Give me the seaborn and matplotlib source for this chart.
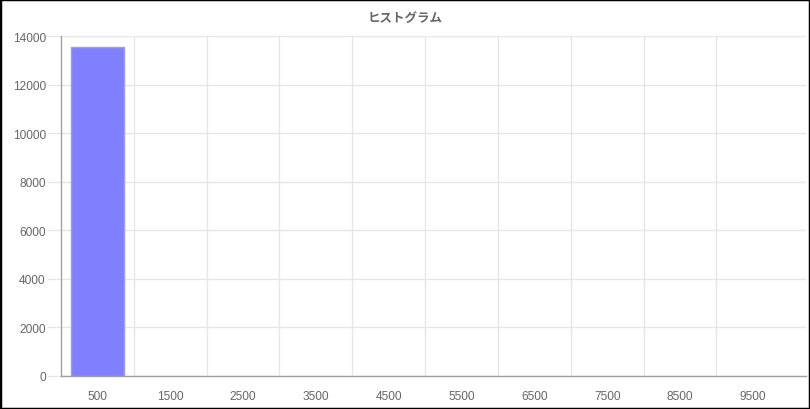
import matplotlib
matplotlib.use("Agg")
import matplotlib.pyplot as plt
from matplotlib.patches import Rectangle
import seaborn as sns
import pandas as pd

bins = ["500", "1500", "2500", "3500", "4500", "5500", "6500", "7500", "8500", "9500"]
counts = [13550, 0, 0, 0, 0, 0, 0, 0, 0, 0]
title = "ヒストグラム"

sns.set_theme(style="white")
plt.rcParams["font.family"] = ["Liberation Sans", "Noto Sans CJK JP", "DejaVu Sans"]

df = pd.DataFrame({"bin": bins, "count": counts})

fig = plt.figure(figsize=(8.1, 4.1), dpi=100)
W, H = 810, 410
ax = fig.add_axes([61 / W, (H - 377) / H, (806 - 61) / W, (377 - 37) / H])

sns.barplot(data=df, x="bin", y="count", ax=ax, color="#8080ff", saturation=1,
            width=0.72, edgecolor="#9a9aff", linewidth=1, order=bins)
for p in ax.patches:
    if p.get_height() == 0:
        p.set_linewidth(0)
        p.set_visible(False)

ax.set_ylim(0, 14000)
ax.set_xlim(-0.5, len(bins) - 0.5 + 0.23)
ax.set_yticks(range(0, 14001, 2000))
ax.set_xlabel("")
ax.set_ylabel("")

ax.set_xticks([i + 0.5 for i in range(len(bins) - 1)], minor=True)
ax.tick_params(axis="x", which="major", length=0, pad=10, labelsize=8.6, labelcolor="#666666")
ax.tick_params(axis="x", which="minor", length=9, width=1, color="#e6e6e6", direction="out")
ax.tick_params(axis="y", which="major", length=10, width=1, color="#e6e6e6", pad=1,
               labelsize=8.6, labelcolor="#666666", left=True)
ax.grid(True, axis="y", which="major", color="#e6e6e6", linewidth=1)
ax.grid(True, axis="x", which="minor", color="#e6e6e6", linewidth=1)
ax.set_axisbelow(True)

for s in ["top", "right"]:
    ax.spines[s].set_visible(False)
for s in ["left", "bottom"]:
    ax.spines[s].set_color("#a0a0a0")
    ax.spines[s].set_linewidth(1)

fig.text(0.5, 1 - 18 / H, title, ha="center", va="center", fontsize=9, fontweight="bold",
         color="#666666", family=["Noto Sans CJK JP", "DejaVu Sans"])

fig.patches.append(Rectangle((0, 0), 1, 1, transform=fig.transFigure, fill=False,
                             edgecolor="black", linewidth=2.5, zorder=10))

fig.savefig("out.png", dpi=100)
